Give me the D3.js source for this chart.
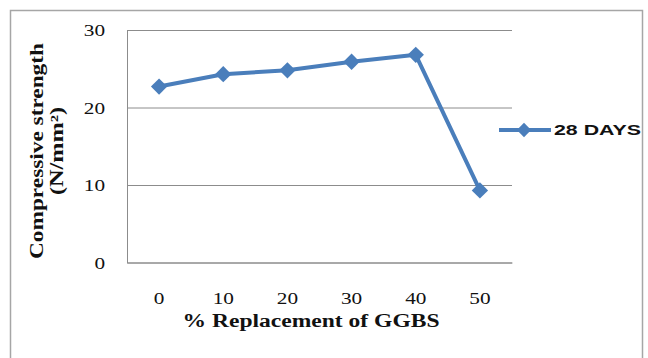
<!DOCTYPE html>
<html>
<head>
<meta charset="utf-8">
<script src="https://cdn.jsdelivr.net/npm/d3@7"></script>
<style>
  html, body { margin: 0; padding: 0; background: #fff; }
  svg { display: block; }
</style>
</head>
<body>
<svg id="chart" width="648" height="358"></svg>
<script>
// GGBS replacement level (%) and 28-day compressive strength (N/mm²)
const categories = ["0", "10", "20", "30", "40", "50"];
const strength28 = [22.7, 24.3, 24.8, 25.9, 26.8, 9.3];
const yTicks = [0, 10, 20, 30];
const seriesName = "28 DAYS";

const svg = d3.select("#chart");
const plot = { left: 127, right: 512, top: 30, bottom: 262.5 };
const blue = "#4A7EBB";
const serif = "'Liberation Serif', 'Times New Roman', serif";

// Outer chart frame
svg.append("rect")
  .attr("x", 10.5).attr("y", 10.5)
  .attr("width", 632).attr("height", 360)
  .attr("fill", "none").attr("stroke", "#a6a6a6").attr("stroke-width", 1.5);

const x = d3.scaleBand().domain(categories).range([plot.left, plot.right]);
const cx = d => x(d) + x.bandwidth() / 2;
const y = d3.scaleLinear().domain([0, 30]).range([plot.bottom, plot.top]);

// widen glyphs horizontally
function stretch(sel, k) {
  sel.each(function () {
    const w = this.getComputedTextLength();
    d3.select(this).attr("textLength", w * k).attr("lengthAdjust", "spacingAndGlyphs");
  });
}

// Y axis with horizontal gridlines
const gy = svg.append("g")
  .attr("transform", `translate(${plot.left},0)`)
  .call(d3.axisLeft(y).tickValues(yTicks).tickFormat(d3.format("d"))
    .tickSizeInner(-(plot.right - plot.left)).tickSizeOuter(0).tickPadding(22));
gy.select(".domain").attr("stroke", "#8c8c8c").attr("stroke-width", 1);
gy.selectAll(".tick line").attr("stroke", "#8c8c8c").attr("stroke-width", 1);
gy.selectAll(".tick text")
  .attr("font-family", serif).attr("font-size", 17).attr("fill", "#111")
  .attr("dy", "0.35em")
  .call(stretch, 1.25);

// X axis
const gx = svg.append("g")
  .attr("transform", `translate(0,${plot.bottom})`)
  .call(d3.axisBottom(x).tickSize(0).tickPadding(29));
gx.select(".domain").attr("stroke", "#8c8c8c").attr("stroke-width", 1);
gx.selectAll(".tick text")
  .attr("font-family", serif).attr("font-size", 17).attr("fill", "#111")
  .call(stretch, 1.25);

// Axis titles
svg.append("text")
  .attr("x", 311).attr("y", 327)
  .attr("text-anchor", "middle")
  .attr("font-family", serif).attr("font-weight", "bold").attr("font-size", 18)
  .attr("fill", "#111")
  .attr("textLength", 257).attr("lengthAdjust", "spacingAndGlyphs")
  .text("% Replacement of GGBS");

const yTitle = svg.append("text")
  .attr("transform", "translate(37,151) rotate(-90)")
  .attr("text-anchor", "middle")
  .attr("font-family", serif).attr("font-weight", "bold").attr("font-size", 18)
  .attr("fill", "#111");
yTitle.append("tspan").attr("x", 0).attr("y", 6)
  .attr("textLength", 216).attr("lengthAdjust", "spacingAndGlyphs")
  .text("Compressive strength");
yTitle.append("tspan").attr("x", 0).attr("y", 26)
  .attr("textLength", 88).attr("lengthAdjust", "spacingAndGlyphs")
  .text("(N/mm²)");

// Series line and diamond markers
const line = d3.line().x((d, i) => cx(categories[i])).y(d => y(d));
svg.append("path")
  .datum(strength28)
  .attr("d", line)
  .attr("fill", "none").attr("stroke", blue).attr("stroke-width", 4)
  .attr("stroke-linejoin", "round");

const diamond = d3.symbol().type(d3.symbolDiamond2).size(170);
svg.append("g").selectAll("path")
  .data(strength28)
  .join("path")
  .attr("d", diamond)
  .attr("transform", (d, i) => `translate(${cx(categories[i])},${y(d)})`)
  .attr("fill", blue);

// Legend
const lg = svg.append("g").attr("transform", "translate(499,130)");
lg.append("line").attr("x1", 0).attr("x2", 52).attr("y1", 0).attr("y2", 0)
  .attr("stroke", blue).attr("stroke-width", 4);
lg.append("path").attr("d", d3.symbol().type(d3.symbolDiamond2).size(130))
  .attr("transform", "translate(25,0)").attr("fill", blue);
lg.append("text")
  .attr("x", 55).attr("y", 0).attr("dy", "0.36em")
  .attr("font-family", "'Liberation Sans', Arial, sans-serif")
  .attr("font-weight", "bold").attr("font-size", 15).attr("fill", "#111")
  .attr("textLength", 87).attr("lengthAdjust", "spacingAndGlyphs")
  .text(seriesName);
</script>
</body>
</html>
